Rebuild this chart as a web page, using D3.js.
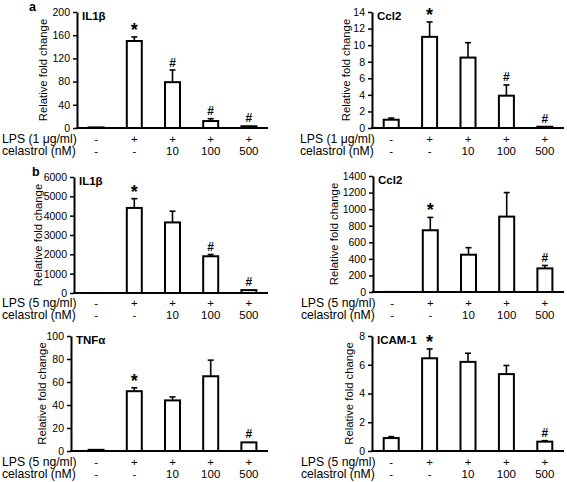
<!DOCTYPE html>
<html><head><meta charset="utf-8">
<script src="https://cdn.jsdelivr.net/npm/d3@7"></script>
<style>
body{margin:0;background:#fff;}
svg{display:block;font-family:"Liberation Sans",Arial,sans-serif;}
</style></head>
<body><svg id="chart" width="567" height="482"></svg>
<script>
// ---------- data ----------
const groups = ["ctrl", "lps", "c10", "c100", "c500"];
const lpsSigns = ["-", "+", "+", "+", "+"];
const celastrolLabels = ["-", "-", "10", "100", "500"];
const lpsLabelA = "LPS (1 μg/ml)";
const lpsLabelB = "LPS (5 ng/ml)";
const celastrolLabel = "celastrol (nM)";
const yLabel = "Relative fold change";

const il1bA_mean = [1, 150, 79, 12, 3];
const il1bA_err  = [1.5, 157, 100, 16, 4];
const il1bA_sig  = ["", "*", "#", "#", "#"];
const il1bA_ticks = [0, 40, 80, 120, 160, 200];

const ccl2A_mean = [1.0, 11.0, 8.5, 3.9, 0.15];
const ccl2A_err  = [1.2, 12.8, 10.3, 5.2, 0.2];
const ccl2A_sig  = ["", "*", "", "#", "#"];
const ccl2A_ticks = [0, 2, 4, 6, 8, 10, 12, 14];

const il1bB_mean = [1, 4400, 3650, 1900, 150];
const il1bB_err  = [1, 4880, 4230, 1990, 180];
const il1bB_sig  = ["", "*", "", "#", "#"];
const il1bB_ticks = [0, 1000, 2000, 3000, 4000, 5000, 6000];

const ccl2B_mean = [1, 745, 450, 910, 285];
const ccl2B_err  = [1, 900, 535, 1200, 320];
const ccl2B_sig  = ["", "*", "", "", "#"];
const ccl2B_ticks = [0, 200, 400, 600, 800, 1000, 1200, 1400];

const tnfB_mean = [1, 52, 44, 65, 7.5];
const tnfB_err  = [1.2, 55, 47, 79, 8];
const tnfB_sig  = ["", "*", "", "", "#"];
const tnfB_ticks = [0, 20, 40, 60, 80, 100];

const icamB_mean = [0.9, 6.45, 6.2, 5.35, 0.65];
const icamB_err  = [1.0, 7.1, 6.8, 5.95, 0.72];
const icamB_sig  = ["", "*", "", "", "#"];
const icamB_ticks = [0, 2, 4, 6, 8];

// ---------- panels (data + layout) ----------
const panels = [
  {title:"IL1β",   mean:il1bA_mean, err:il1bA_err, sig:il1bA_sig, ticks:il1bA_ticks, lps:lpsLabelA,
   ax:77,  x0:77,  x1:268, yt:12,  yb:128, rowX:2,   row1:143, row2:155, ylx:43},
  {title:"Ccl2",   mean:ccl2A_mean, err:ccl2A_err, sig:ccl2A_sig, ticks:ccl2A_ticks, lps:lpsLabelA,
   ax:372, x0:372, x1:564, yt:12,  yb:128, rowX:300, row1:143, row2:155, ylx:346},
  {title:"IL1β",   mean:il1bB_mean, err:il1bB_err, sig:il1bB_sig, ticks:il1bB_ticks, lps:lpsLabelB,
   ax:74,  x0:77,  x1:268, yt:177, yb:293, rowX:2,   row1:307, row2:319, ylx:38},
  {title:"Ccl2",   mean:ccl2B_mean, err:ccl2B_err, sig:ccl2B_sig, ticks:ccl2B_ticks, lps:lpsLabelB,
   ax:373, x0:373, x1:564, yt:176, yb:292, rowX:301, row1:307, row2:319, ylx:334},
  {title:"TNFα",   mean:tnfB_mean, err:tnfB_err, sig:tnfB_sig, ticks:tnfB_ticks, lps:lpsLabelB,
   ax:71,  x0:77,  x1:268, yt:336, yb:451, rowX:2,   row1:465.5, row2:477.5, ylx:42},
  {title:"ICAM-1", mean:icamB_mean, err:icamB_err, sig:icamB_sig, ticks:icamB_ticks, lps:lpsLabelB,
   ax:372, x0:372, x1:564, yt:336, yb:451, rowX:301, row1:465.5, row2:477.5, ylx:349}
];

const svg = d3.select("#chart");

svg.append("text").attr("x", 29).attr("y", 11).attr("font-size", 12.5).attr("font-weight", "bold").text("a");
svg.append("text").attr("x", 32).attr("y", 176).attr("font-size", 12.5).attr("font-weight", "bold").text("b");

panels.forEach(p => {
  const g = svg.append("g");
  const y = d3.scaleLinear().domain([0, d3.max(p.ticks)]).range([p.yb, p.yt]);
  const x = d3.scalePoint().domain(groups).range([p.x0, p.x1]).padding(0.5);
  const bw = 15;

  // y axis
  const yAxis = d3.axisLeft(y).tickValues(p.ticks).tickFormat(d3.format("d"))
    .tickSize(4).tickSizeOuter(0).tickPadding(3);
  const ga = g.append("g").attr("transform", `translate(${p.ax},0)`).call(yAxis);
  ga.attr("font-family", null);
  ga.select(".domain").attr("stroke", "#000").attr("stroke-width", 2);
  ga.selectAll(".tick line").attr("stroke", "#000").attr("stroke-width", 1.5);
  ga.selectAll(".tick text").attr("font-size", 10.5).attr("fill", "#000");

  // bars
  g.selectAll("rect.bar").data(groups).enter().append("rect")
    .attr("x", d => x(d) - bw / 2)
    .attr("y", (d, i) => y(p.mean[i]))
    .attr("width", bw)
    .attr("height", (d, i) => p.yb - y(p.mean[i]))
    .attr("fill", "#fff").attr("stroke", "#000").attr("stroke-width", 2);

  // error bars + significance marks
  groups.forEach((d, i) => {
    if (p.err[i] > p.mean[i] && (y(p.mean[i]) - y(p.err[i])) > 1) {
      g.append("line").attr("x1", x(d)).attr("x2", x(d))
        .attr("y1", y(p.mean[i])).attr("y2", y(p.err[i]))
        .attr("stroke", "#000").attr("stroke-width", 1.6);
      g.append("line").attr("x1", x(d) - 3).attr("x2", x(d) + 3)
        .attr("y1", y(p.err[i])).attr("y2", y(p.err[i]))
        .attr("stroke", "#000").attr("stroke-width", 1.6);
    }
    const top = y(Math.max(p.err[i], p.mean[i]));
    if (p.sig[i] === "*") {
      g.append("text").attr("x", x(d)).attr("y", top - 1).attr("text-anchor", "middle")
        .attr("font-size", 18).attr("font-weight", "bold").text("*");
    } else if (p.sig[i] === "#") {
      g.append("text").attr("x", x(d)).attr("y", top - 3.5).attr("text-anchor", "middle")
        .attr("font-size", 12).attr("font-weight", "bold").text("#");
    }
  });

  // x axis line
  g.append("line").attr("x1", p.ax - 1).attr("x2", p.x1).attr("y1", p.yb).attr("y2", p.yb)
    .attr("stroke", "#000").attr("stroke-width", 2);

  // title
  g.append("text").attr("x", p.ax + 5).attr("y", p.yt + 7.5).attr("font-size", 11.5)
    .attr("font-weight", "bold").text(p.title);

  // y label
  g.append("text").attr("transform", `translate(${p.ylx},${(p.yt + p.yb) / 2}) rotate(-90)`)
    .attr("text-anchor", "middle").attr("dy", "0.35em").attr("font-size", 11.3).text(yLabel);

  // row labels
  g.append("text").attr("x", p.rowX).attr("y", p.row1).attr("font-size", 12.2).text(p.lps);
  g.append("text").attr("x", p.rowX).attr("y", p.row2).attr("font-size", 12.2).text(celastrolLabel);
  g.selectAll("text.lpsSign").data(groups).enter().append("text")
    .attr("x", d => x(d)).attr("y", p.row1).attr("text-anchor", "middle").attr("font-size", 11.5)
    .text((d, i) => lpsSigns[i]);
  g.selectAll("text.celSign").data(groups).enter().append("text")
    .attr("x", d => x(d)).attr("y", p.row2).attr("text-anchor", "middle").attr("font-size", 11.5)
    .text((d, i) => celastrolLabels[i]);
});
</script></body></html>
